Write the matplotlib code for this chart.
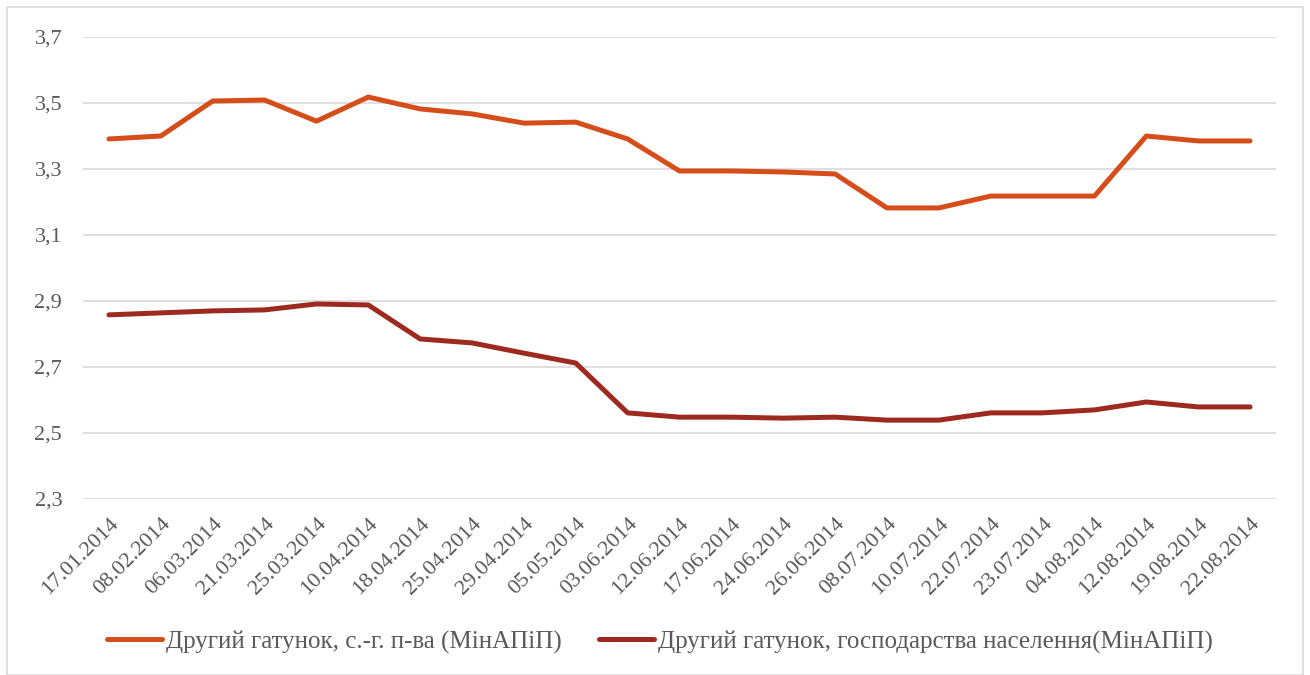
import matplotlib
matplotlib.use("Agg")
import matplotlib.pyplot as plt
from matplotlib.patches import Rectangle

dates = ["17.01.2014", "08.02.2014", "06.03.2014", "21.03.2014", "25.03.2014",
         "10.04.2014", "18.04.2014", "25.04.2014", "29.04.2014", "05.05.2014",
         "03.06.2014", "12.06.2014", "17.06.2014", "24.06.2014", "26.06.2014",
         "08.07.2014", "10.07.2014", "22.07.2014", "23.07.2014", "04.08.2014",
         "12.08.2014", "19.08.2014", "22.08.2014"]
agri = [3.391, 3.400, 3.506, 3.509, 3.445, 3.518, 3.482, 3.467, 3.439, 3.442,
        3.391, 3.294, 3.294, 3.291, 3.285, 3.182, 3.182, 3.218, 3.218, 3.218,
        3.400, 3.385, 3.385]
house = [2.858, 2.864, 2.870, 2.873, 2.891, 2.888, 2.785, 2.773, 2.742, 2.712,
         2.561, 2.548, 2.548, 2.545, 2.548, 2.539, 2.539, 2.561, 2.561, 2.570,
         2.594, 2.579, 2.579]
yticks = [2.3, 2.5, 2.7, 2.9, 3.1, 3.3, 3.5, 3.7]
label_agri = "Другий гатунок, с.-г. п-ва (МінАПіП)"
label_house = "Другий гатунок, господарства населення(МінАПіП)"

serif = ["Liberation Serif", "DejaVu Serif"]
txt = "#595959"

fig = plt.figure(figsize=(13.1, 6.75), dpi=100)
fig.patches.append(Rectangle((7 / 1310, 0), 1 - 14 / 1310, 1 - 7 / 675, transform=fig.transFigure,
                             fill=False, edgecolor="#d9d9d9", linewidth=1.2))
ax = fig.add_axes([83 / 1310, 1 - 499 / 675, (1276 - 83) / 1310, (499 - 37) / 675])

x = list(range(len(dates)))
l1, = ax.plot(x, agri, color="#D54E1A", linewidth=3.6, solid_capstyle="round", solid_joinstyle="round",
              label=label_agri)
l2, = ax.plot(x, house, color="#9E2A1F", linewidth=3.6, solid_capstyle="round", solid_joinstyle="round",
              label=label_house)

ax.set_xlim(-0.5, len(dates) - 0.5)
ax.set_ylim(2.3, 3.7)
ax.set_yticks(yticks)
ax.set_yticklabels([f"{v:.1f}".replace(".", ",") for v in yticks], family=serif, fontsize=16, color=txt)
ax.set_xticks(x)
ax.set_xticklabels(dates, rotation=45, ha="right", va="top", rotation_mode="anchor",
                   family=serif, fontsize=16, color=txt)
ax.tick_params(axis="both", length=0)
ax.tick_params(axis="y", pad=15)
ax.tick_params(axis="x", pad=11)
ax.grid(axis="y", color="#d9d9d9", linewidth=1.2)
ax.set_axisbelow(True)
for s in ax.spines.values():
    s.set_visible(False)

leg = fig.legend(handles=[l1, l2], loc="center", bbox_to_anchor=(0.504, 1 - 642 / 675), ncol=2,
                 frameon=False, prop={"family": serif, "size": 18}, handlelength=2.2,
                 columnspacing=1.5, handletextpad=0.15)
for t in leg.get_texts():
    t.set_color(txt)

fig.savefig("out.png", dpi=100)
